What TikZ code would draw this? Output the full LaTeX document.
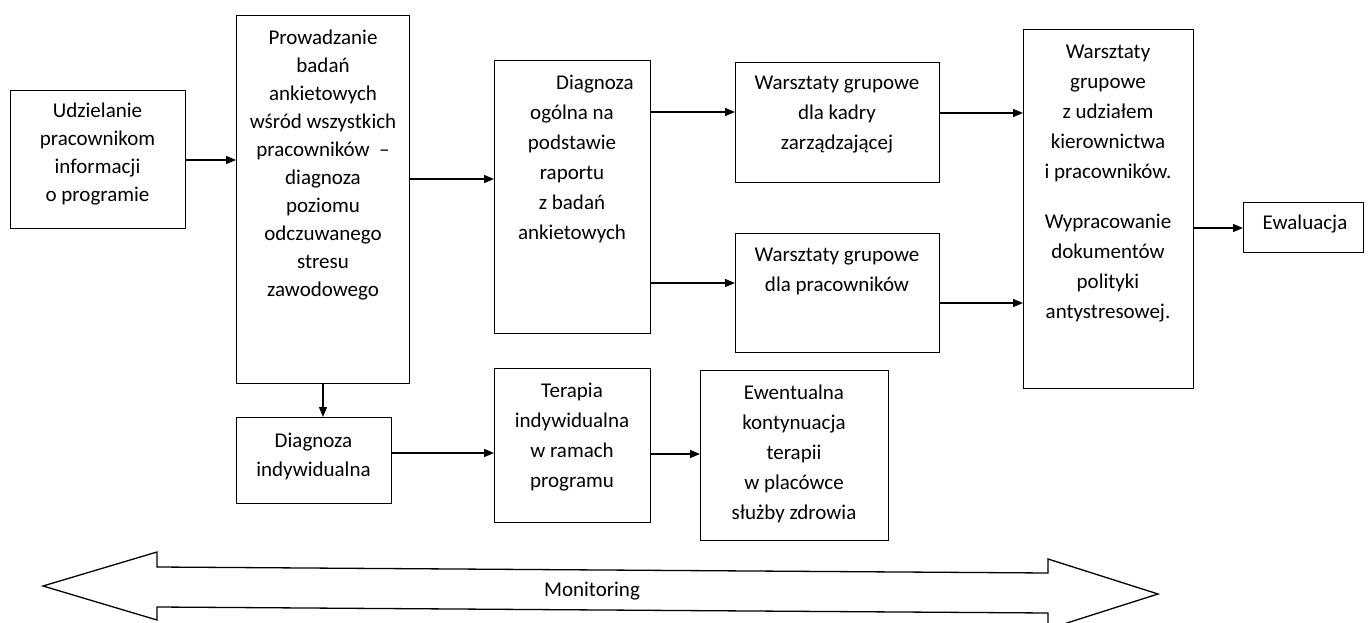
\documentclass[tikz,border=0pt]{standalone}
\usepackage{fontspec}
\setmainfont{Carlito}
\usetikzlibrary{arrows.meta}
\tikzset{
  box/.style={draw, line width=1.4pt, inner sep=0pt, anchor=north west},
  txt/.style={font=\fontsize{21}{29}\selectfont, align=center, inner sep=0pt, anchor=north,
    execute at begin node={\rule{0pt}{20pt}}},
  txtb/.style={txt, font=\fontsize{21}{28}\selectfont},
  txtc/.style={txt, font=\fontsize{21}{30}\selectfont},
  arr/.style={-{Triangle[length=10pt,width=8pt]}, line width=1.3pt},
  bigarrow/.style={draw, line width=1.3pt, line join=miter}
}
\begin{document}
\begin{tikzpicture}[x=1pt,y=-1pt]
\useasboundingbox (0,0) rectangle (1369,623);
% boxes
\node[box, minimum width=175pt, minimum height=138pt] (b1) at (10,90) {};
\node[box, minimum width=173pt, minimum height=368pt] (b2) at (236,15) {};
\node[box, minimum width=156pt, minimum height=273pt] (b3) at (494,60) {};
\node[box, minimum width=204pt, minimum height=120pt] (b4) at (735,62) {};
\node[box, minimum width=204pt, minimum height=119pt] (b5) at (735,233) {};
\node[box, minimum width=170pt, minimum height=359pt] (b6) at (1023,29) {};
\node[box, minimum width=120pt, minimum height=50pt] (b7) at (1243,202) {};
\node[box, minimum width=155pt, minimum height=86pt] (b8) at (236,417) {};
\node[box, minimum width=156pt, minimum height=154pt] (b9) at (494,368) {};
\node[box, minimum width=188pt, minimum height=170pt] (b10) at (700,370) {};
% texts
\node[txtb] (t1) at (97.5,103) {Udzielanie\\pracownikom\\informacji\\o programie};
\node[txtb] (t2) at (323,30) {Prowadzanie\\badań\\ankietowych\\wśród wszystkich\\pracowników~~–\\diagnoza\\poziomu\\odczuwanego\\stresu\\zawodowego};
\node[txtc] (t3) at (572,75) {\hspace*{46pt}Diagnoza\\ogólna na\\podstawie\\raportu\\z badań\\ankietowych};
\node[txtc] (t4) at (837,76) {Warsztaty grupowe\\dla kadry\\zarządzającej};
\node[txtc] (t5) at (837,248) {Warsztaty grupowe\\dla pracowników};
\node[txtc] (t6) at (1108,45) {Warsztaty\\grupowe\\z udziałem\\kierownictwa\\i pracowników.\\[20pt]Wypracowanie\\dokumentów\\polityki\\antystresowej.};
\node[txt] (t7) at (1305,209) {Ewaluacja};
\node[txt] (t8) at (313.5,433) {Diagnoza\\indywidualna};
\node[txtc] (t9) at (572,383) {Terapia\\indywidualna\\w ramach\\programu};
\node[txtc] (t10) at (794,385) {Ewentualna\\kontynuacja\\terapii\\w placówce\\służby zdrowia};
% connectors
\draw[arr] (b1.east |- 0,160) -- (b2.west |- 0,160);
\draw[arr] (b2.east |- 0,179) -- (b3.west |- 0,179);
\draw[arr] (b3.east |- 0,112) -- (b4.west |- 0,112);
\draw[arr] (b3.east |- 0,283) -- (b5.west |- 0,283);
\draw[arr] (b4.east |- 0,113) -- (b6.west |- 0,113);
\draw[arr] (b5.east |- 0,303) -- (b6.west |- 0,303);
\draw[arr] (b6.east |- 0,228) -- (b7.west |- 0,228);
\draw[arr] (b2.south -| 323,0) -- (b8.north -| 323,0);
\draw[arr] (b8.east |- 0,453) -- (b9.west |- 0,453);
\draw[arr] (b9.east |- 0,454) -- (b10.west |- 0,454);
% monitoring double arrow
\draw[bigarrow] (43,586) -- (157,552) -- (157,567) -- (1048,573) -- (1048,559) -- (1158,594)
  -- (1048,629) -- (1048,613) -- (157,607) -- (157,620) -- cycle;
\node[txt] (tm) at (592,576) {Monitoring};
\end{tikzpicture}
\end{document}
